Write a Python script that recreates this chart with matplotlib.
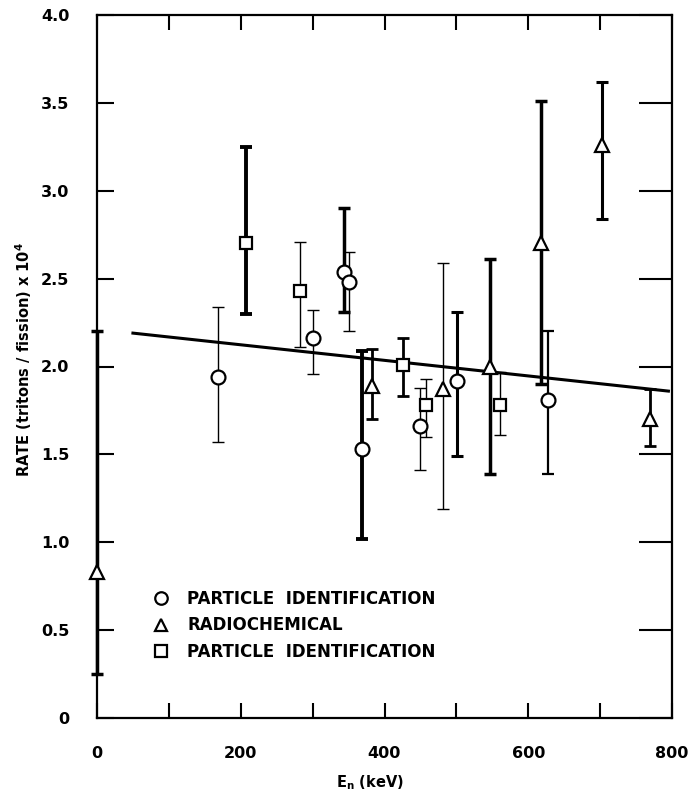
import numpy as np
import matplotlib
matplotlib.use('Agg')
import matplotlib.pyplot as plt
from matplotlib.lines import Line2D

# data (value, lower / upper end of bar)
circ_x = [168, 300, 343, 350, 368, 449, 501, 627]
circ_y = [1.94, 2.16, 2.54, 2.48, 1.53, 1.66, 1.92, 1.81]
circ_lo = [1.57, 1.96, 2.31, 2.20, 1.02, 1.41, 1.49, 1.39]
circ_hi = [2.34, 2.32, 2.90, 2.65, 2.09, 1.88, 2.31, 2.20]

tri_x = [0, 383, 482, 547, 618, 703, 770]
tri_y = [0.83, 1.89, 1.87, 2.00, 2.70, 3.26, 1.70]
tri_lo = [0.25, 1.70, 1.19, 1.39, 1.90, 2.84, 1.55]
tri_hi = [2.20, 2.10, 2.59, 2.61, 3.51, 3.62, 1.87]

sq_x = [207, 282, 426, 458, 560]
sq_y = [2.70, 2.43, 2.01, 1.78, 1.78]
sq_lo = [2.30, 2.11, 1.83, 1.60, 1.61]
sq_hi = [3.25, 2.71, 2.16, 1.93, 1.97]

# fitted straight line (end points)
fit_x = [50, 795]
fit_y = [2.19, 1.86]

# heavy or light pen for each error bar
circ_lw = [1.0, 1.0, 2.5, 1.0, 2.8, 1.0, 2.2, 1.6]
tri_lw = [2.5, 2.0, 1.0, 2.5, 2.5, 2.2, 2.0]
sq_lw = [2.8, 1.0, 2.0, 1.0, 1.0]

legend_labels = ['PARTICLE  IDENTIFICATION', 'RADIOCHEMICAL', 'PARTICLE  IDENTIFICATION']

plt.rcParams['font.family'] = 'DejaVu Sans'
plt.rcParams['font.weight'] = 'bold'

fig = plt.figure(figsize=(6.92, 7.94), dpi=100)
ax = fig.add_axes([97/692, 76/794, 575/692, 703/794])

ax.plot(fit_x, fit_y, color='black', lw=2.2, zorder=2)


def draw_series(xs, ys, lo, hi, lws, marker, ms):
    for x, y, l, h, lw in zip(xs, ys, lo, hi, lws):
        ax.errorbar([x], [y], yerr=[[y - l], [h - y]], fmt='none',
                    ecolor='black', elinewidth=lw, capsize=4, capthick=lw,
                    zorder=3, clip_on=False)
    ax.plot(xs, ys, linestyle='none', marker=marker, ms=ms, mfc='white',
            mec='black', mew=1.6, zorder=4, clip_on=False)


draw_series(circ_x, circ_y, circ_lo, circ_hi, circ_lw, 'o', 10)
draw_series(tri_x, tri_y, tri_lo, tri_hi, tri_lw, '^', 10)
draw_series(sq_x, sq_y, sq_lo, sq_hi, sq_lw, 's', 9)

ax.set_xlim(0, 800)
ax.set_ylim(0, 4.0)

ax.set_xticks(np.arange(0, 801, 100))
ax.set_xticklabels(['0', '', '200', '', '400', '', '600', '', '800'])
ax.set_yticks(np.arange(0, 4.01, 0.5))
ax.set_yticklabels(['0', '0.5', '1.0', '1.5', '2.0', '2.5', '3.0', '3.5', '4.0'])

ax.tick_params(axis='x', direction='in', length=11, width=1.5, pad=20,
               labelsize=11.5, top=True)
ax.tick_params(axis='y', direction='in', length=12, width=1.5, pad=20,
               labelsize=11.5, right=True)
for t in ax.yaxis.get_major_ticks():
    t.tick2line.set_markersize(24)
for s in ax.spines.values():
    s.set_linewidth(1.6)

ax.set_xlabel('E$_\\mathbf{n}$ (keV)', fontsize=10.5, fontweight='bold')
ax.xaxis.set_label_coords((370 - 97) / 575, -0.078)
ax.set_ylabel('RATE (tritons / fission) x 10$^\\mathbf{4}$', fontsize=10.5,
              fontweight='bold')
ax.yaxis.set_label_coords(-0.11, 0.51)

# hand-made legend block
handles = [Line2D([], [], ls='none', marker=m, ms=ms, mfc='white', mec='black', mew=1.6)
           for m, ms in [('o', 9), ('^', 9), ('s', 9)]]
ax.legend(handles, legend_labels, loc='lower left', bbox_to_anchor=(0.07, 0.06),
          frameon=False, fontsize=12, handletextpad=1.1, labelspacing=0.5,
          handlelength=1.0)

fig.savefig('out.png', dpi=100)
